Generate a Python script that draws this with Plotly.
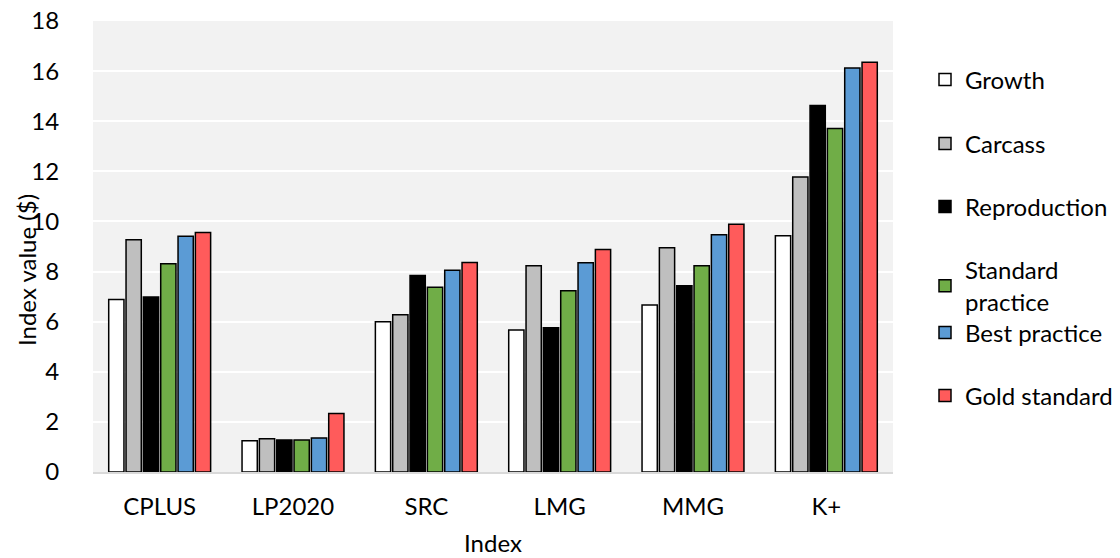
import plotly.graph_objects as go

categories = ["CPLUS", "LP2020", "SRC", "LMG", "MMG", "K+"]
series_names = ["Growth", "Carcass", "Reproduction", "Standard<br>practice", "Best practice", "Gold standard"]
growth = [6.88, 1.25, 6.0, 5.67, 6.67, 9.43]
carcass = [9.27, 1.33, 6.28, 8.23, 8.95, 11.77]
reproduction = [6.98, 1.28, 7.84, 5.76, 7.43, 14.63]
standard_practice = [8.31, 1.28, 7.37, 7.23, 8.23, 13.71]
best_practice = [9.41, 1.36, 8.05, 8.35, 9.47, 16.12]
gold_standard = [9.56, 2.33, 8.36, 8.88, 9.89, 16.35]
colors = ["#ffffff", "#bfbfbf", "#000000", "#70ad47", "#5b9bd5", "#ff5b5b"]
y_ticks = [0, 2, 4, 6, 8, 10, 12, 14, 16, 18]
x_title = "Index"
y_title = "Index value ($)"

all_series = [growth, carcass, reproduction, standard_practice, best_practice, gold_standard]
FONT = "Lato, 'Open Sans', sans-serif"
FS = 24

fig = go.Figure()
legend_names = ["legend", "legend2", "legend3", "legend4", "legend5", "legend6"]
legend_ypx = [80, 144, 207, 286, 333, 396]
for i, (name, vals) in enumerate(zip(series_names, all_series)):
    fig.add_trace(go.Bar(
        x=categories, y=vals, name=name,
        marker=dict(color=colors[i], line=dict(color="#000000", width=1.5)),
        legend=legend_names[i],
    ))

plot_left, plot_right = 93, 893
plot_top, plot_bottom = 21, 472
layout_legends = {}
for i, ln in enumerate(legend_names):
    layout_legends[ln] = dict(
        x=1.04, xanchor="left",
        y=(plot_bottom - legend_ypx[i]) / (plot_bottom - plot_top), yanchor="middle",
        font=dict(family=FONT, size=FS, color="#000000"),
        bgcolor="rgba(0,0,0,0)", borderwidth=0,
    )

fig.update_layout(
    width=1120, height=558,
    margin=dict(l=plot_left, r=1120 - plot_right, t=plot_top, b=558 - plot_bottom, autoexpand=False),
    paper_bgcolor="#ffffff", plot_bgcolor="#f2f2f2",
    barmode="group", bargap=0.22, bargroupgap=0.12,
    font=dict(family=FONT, size=FS, color="#000000"),
    showlegend=True,
    **layout_legends,
)
fig.add_annotation(
    text=y_title, textangle=-90, showarrow=False,
    xref="paper", yref="paper",
    x=(26 - plot_left) / (plot_right - plot_left), xanchor="center",
    y=(plot_bottom - 270) / (plot_bottom - plot_top), yanchor="middle",
    font=dict(family=FONT, size=FS, color="#000000"),
)
fig.update_xaxes(
    automargin=False,
    showgrid=False, showline=True, linecolor="#d9d9d9", linewidth=2,
    ticks="outside", ticklen=12, tickcolor="rgba(0,0,0,0)",
    tickfont=dict(family=FONT, size=FS, color="#000000"),
    title=dict(text=x_title, font=dict(family=FONT, size=FS, color="#000000"), standoff=16),
)
fig.update_yaxes(
    automargin=False,
    range=[0, 18], tickvals=y_ticks, showgrid=True, gridcolor="#ffffff", gridwidth=2,
    zeroline=False, showline=False,
    ticks="outside", ticklen=18, tickcolor="rgba(0,0,0,0)", ticklabelstandoff=10,
    ticklabeloverflow="allow",
    tickfont=dict(family=FONT, size=FS, color="#000000"),
)
fig.write_html("out.html", config={"displayModeBar": False},
               post_script="document.body.style.margin='0px';")
